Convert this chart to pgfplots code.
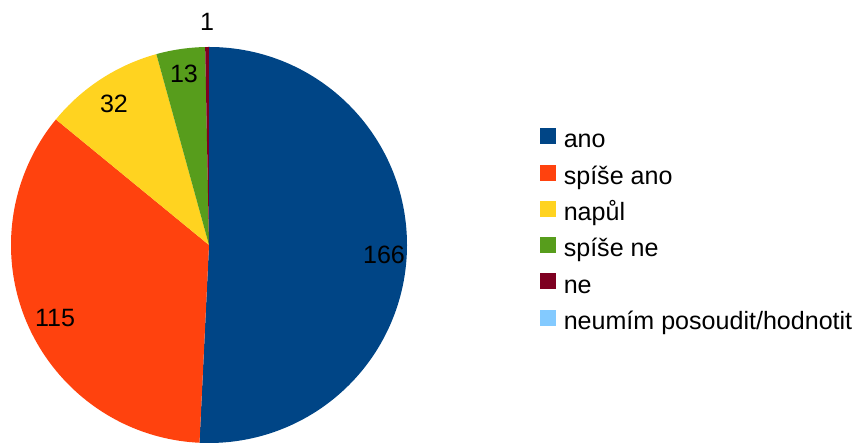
\documentclass[border=0pt]{standalone}
\usepackage{fontspec}
\setmainfont{Liberation Sans}
\usepackage{pgfplots}
\usepackage{pgfplotstable}
\pgfplotsset{compat=1.18}

\definecolor{cano}{HTML}{004586}
\definecolor{cspiseano}{HTML}{FF420E}
\definecolor{cnapul}{HTML}{FFD320}
\definecolor{cspisene}{HTML}{579D1C}
\definecolor{cne}{HTML}{7E0021}
\definecolor{cneumim}{HTML}{83CAFF}

\pgfplotstableread[col sep=comma]{
label,value
ano,166
spíše ano,115
napůl,32
spíše ne,13
ne,1
neumím posoudit/hodnotit,0
}\piedata

\newcommand\getval[2]{\pgfplotstablegetelem{#1}{value}\of\piedata\let#2\pgfplotsretval}

\begin{document}%
\getval{0}{\vA}\getval{1}{\vB}\getval{2}{\vC}\getval{3}{\vD}\getval{4}{\vE}\getval{5}{\vF}%
\pgfmathsetmacro\tot{\vA+\vB+\vC+\vD+\vE+\vF}%
\pgfmathsetmacro\aA{90-360*(\vA/\tot)}%
\pgfmathsetmacro\aB{\aA-360*(\vB/\tot)}%
\pgfmathsetmacro\aC{\aB-360*(\vC/\tot)}%
\pgfmathsetmacro\aD{\aC-360*(\vD/\tot)}%
\pgfmathsetmacro\aE{\aD-360*(\vE/\tot)}%
\def\R{148.5pt}%
\begin{tikzpicture}[font=\fontsize{18.8}{22}\selectfont]
\begin{axis}[
  x=0.75pt, y=0.75pt,
  xmin=0, xmax=856, ymin=0, ymax=444,
  hide axis, clip=false, enlargelimits=false,
  legend image code/.code={\fill[#1] (0pt,-1.5pt) rectangle (11.25pt,9.75pt);},
  legend cell align=left,
  legend style={at={(axis cs:540,316)}, anchor=north west, draw=none, fill=none,
    inner sep=0pt, row sep=8.1pt, column sep=6pt,
    nodes={inner sep=0pt, text height=14pt, text depth=4.3pt},
    font=\fontsize{18.8}{22}\selectfont},
]
\path (axis cs:0,0) rectangle (axis cs:856,444);
\addlegendimage{cano}\addlegendentry{ano}
\addlegendimage{cspiseano}\addlegendentry{spíše ano}
\addlegendimage{cnapul}\addlegendentry{napůl}
\addlegendimage{cspisene}\addlegendentry{spíše ne}
\addlegendimage{cne}\addlegendentry{ne}
\addlegendimage{cneumim}\addlegendentry{neumím posoudit/hodnotit}

\fill[cano] (axis cs:209,199) -- ++(90:\R) arc[start angle=90, end angle=\aA, radius=\R] -- cycle;
\fill[cspiseano] (axis cs:209,199) -- ++(\aA:\R) arc[start angle=\aA, end angle=\aB, radius=\R] -- cycle;
\fill[cnapul] (axis cs:209,199) -- ++(\aB:\R) arc[start angle=\aB, end angle=\aC, radius=\R] -- cycle;
\fill[cspisene] (axis cs:209,199) -- ++(\aC:\R) arc[start angle=\aC, end angle=\aD, radius=\R] -- cycle;
\fill[cne] (axis cs:209,199) -- ++(\aD:\R) arc[start angle=\aD, end angle=\aE, radius=\R] -- cycle;

\node at (axis cs:384,189) {\vA};
\node at (axis cs:55,126) {\vB};
\node at (axis cs:114,340) {\vC};
\node at (axis cs:184,370) {\vD};
\node at (axis cs:207,422) {\vE};
\end{axis}
\end{tikzpicture}%
\end{document}
